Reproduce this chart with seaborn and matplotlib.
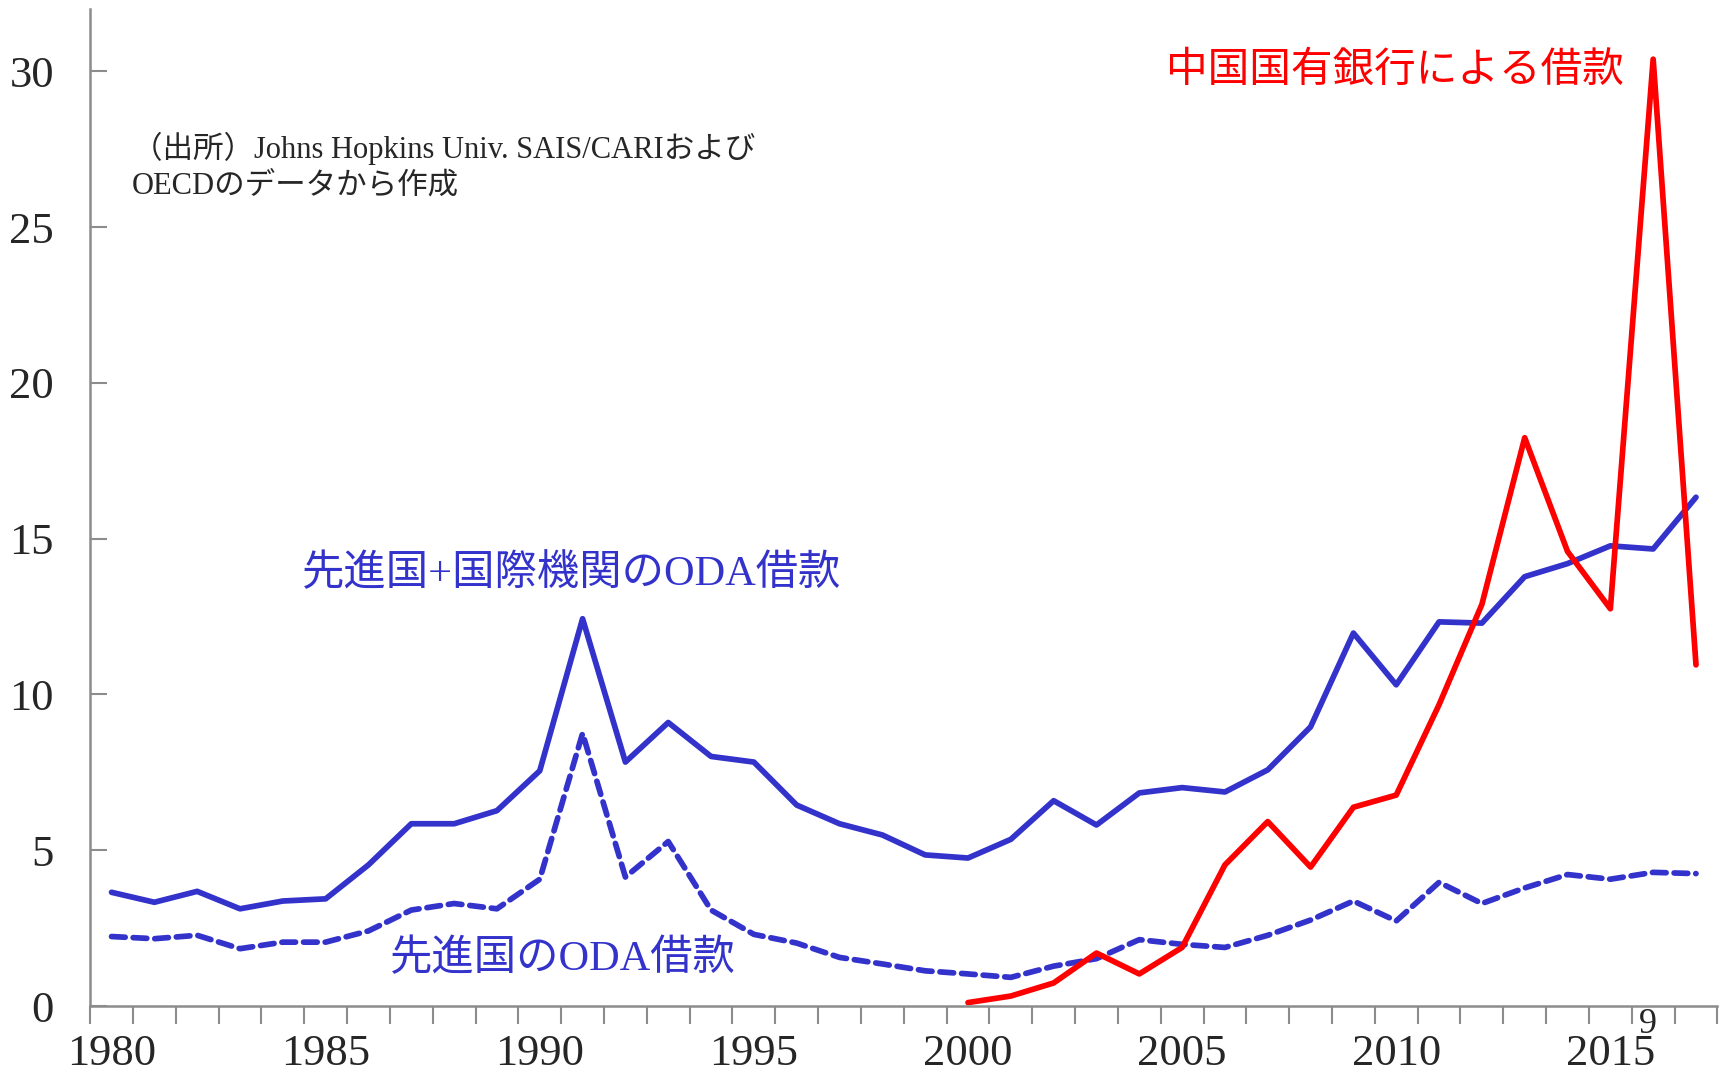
import numpy as np
import pandas as pd
import matplotlib
matplotlib.use("Agg")
import matplotlib.pyplot as plt
import seaborn as sns

# データ（単位は図から読み取り）
years = list(range(1980, 2018))

# 先進国+国際機関のODA借款
oda_total = [3.65, 3.33, 3.68, 3.12, 3.37, 3.44, 4.53, 5.85, 5.85, 6.27,
             7.55, 12.43, 7.83, 9.10, 8.01, 7.83, 6.45, 5.85, 5.49, 4.85,
             4.75, 5.35, 6.59, 5.81, 6.84, 7.01, 6.87, 7.58, 8.96, 11.97,
             10.31, 12.33, 12.29, 13.78, 14.20, 14.77, 14.67, 16.33]

# 先進国のODA借款
oda_dev = [2.23, 2.16, 2.27, 1.84, 2.05, 2.05, 2.41, 3.08, 3.29, 3.12,
           4.07, 8.75, 4.14, 5.28, 3.08, 2.30, 2.02, 1.56, 1.35, 1.13,
           1.03, 0.92, 1.28, 1.52, 2.13, 1.98, 1.88, 2.27, 2.76, 3.37,
           2.73, 3.97, 3.29, 3.79, 4.22, 4.07, 4.29, 4.25]

# 中国国有銀行による借款 (2000-)
china_years = list(range(2000, 2018))
china = [0.11, 0.32, 0.74, 1.70, 1.03, 1.88, 4.53, 5.92, 4.46, 6.38,
         6.77, 9.67, 12.89, 18.24, 14.59, 12.75, 30.39, 10.95]

df = pd.DataFrame({"year": years, "total": oda_total, "dev": oda_dev})
df_cn = pd.DataFrame({"year": china_years, "china": china})

sns.set_style("white")
plt.rcParams['font.family'] = ['Liberation Serif', 'Noto Sans CJK JP']

blue = "#3333cc"
red = "#ff0000"
gray = "#8c8c8c"

fig = plt.figure(figsize=(17.33, 10.74), dpi=100)
ax = fig.add_axes([0.052, 0.0633, 0.939, 0.9283])

sns.lineplot(data=df, x="year", y="total", ax=ax, color=blue, lw=4.1,
             solid_capstyle="round", solid_joinstyle="round")
sns.lineplot(data=df, x="year", y="dev", ax=ax, color=blue, lw=4.1)
ax.lines[-1].set_dashes((2.4, 1.4))
ax.lines[-1].set_dash_capstyle("round")
sns.lineplot(data=df_cn, x="year", y="china", ax=ax, color=red, lw=4.1,
             solid_capstyle="round", solid_joinstyle="round")

ax.set_xlim(1979.5, 2017.5)
ax.set_ylim(0, 32)
ax.set_xlabel("")
ax.set_ylabel("")

ax.set_xticks(range(1980, 2016, 5))
ax.set_xticks(np.arange(1979.5, 2018, 1), minor=True)
ax.tick_params(axis="x", which="major", length=0, labelsize=32, pad=20)
ax.tick_params(axis="x", which="minor", length=13, width=1.5,
               direction="out", color=gray, bottom=True)
ax.set_yticks(range(0, 31, 5))
ax.tick_params(axis="y", length=12, width=1.5, direction="in",
               color=gray, labelsize=32, pad=26, left=True)

for s in ["top", "right"]:
    ax.spines[s].set_visible(False)
for s in ["left", "bottom"]:
    ax.spines[s].set_color(gray)
    ax.spines[s].set_linewidth(1.8)

# 注記
fig.text(0.330, 0.465, "先進国+国際機関のODA借款", color=blue, fontsize=30.5,
         ha="center", va="center")
fig.text(0.325, 0.107, "先進国のODA借款", color=blue, fontsize=30.5,
         ha="center", va="center")
fig.text(0.805, 0.935, "中国国有銀行による借款", color=red, fontsize=30,
         ha="center", va="center", family=["Noto Sans CJK JP"])
fig.text(0.076, 0.845, "（出所）Johns Hopkins Univ. SAIS/CARIおよび\nOECDのデータから作成",
         fontsize=22, ha="left", va="center", linespacing=1.3)
fig.text(0.951, 0.046, "9", fontsize=26, ha="center", va="center")

fig.savefig("out.png", dpi=100)
